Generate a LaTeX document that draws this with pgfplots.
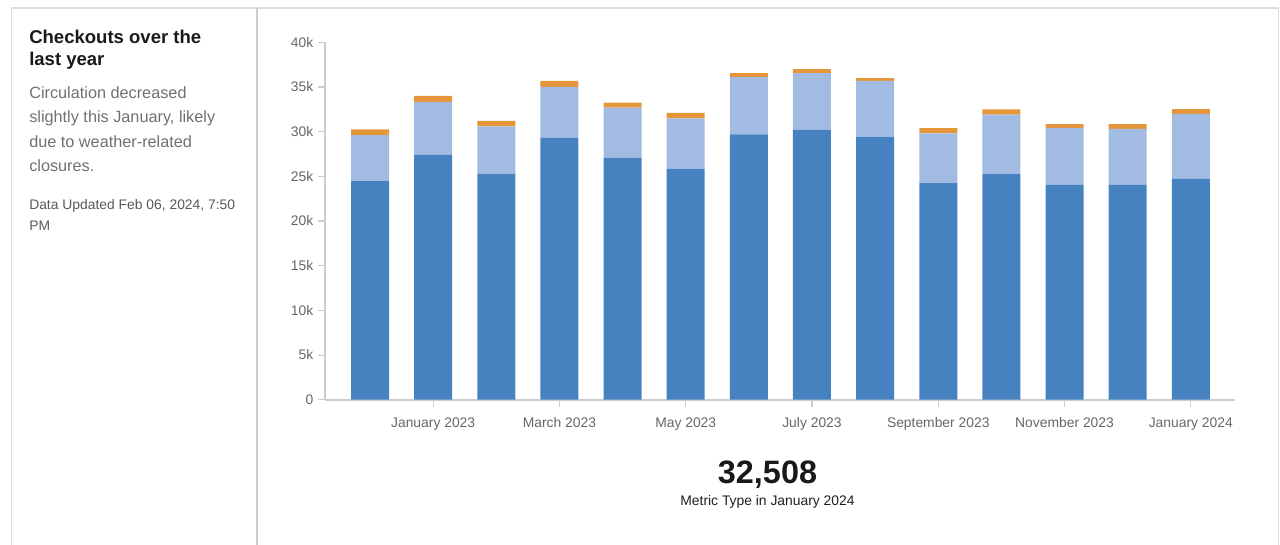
\documentclass[border=0pt]{standalone}
\usepackage{pgfplots}
\usepackage{pgfplotstable}
\pgfplotsset{compat=1.18}
\usepackage{fontspec}
\setmainfont{Liberation Sans}
\definecolor{cblue}{HTML}{4682C0}
\definecolor{clight}{HTML}{A2BBE3}
\definecolor{corange}{HTML}{E5963B}
\definecolor{axgray}{HTML}{C9CDD3}
\definecolor{bordergray}{HTML}{DADDE2}
\definecolor{ticktext}{HTML}{666666}
\definecolor{bodytext}{HTML}{707070}

\pgfplotstableread{
x blue light orange
0 24450 5150 650
1 27400 5900 700
2 25260 5340 600
3 29300 5700 670
4 27100 5600 560
5 25800 5700 600
6 29700 6400 460
7 30200 6360 440
8 29400 6270 330
9 24250 5550 600
10 25260 6640 600
11 24030 6400 420
12 24030 6270 550
13 24750 7250 508
}\data

\begin{document}
\begin{tikzpicture}
\path[use as bounding box] (0pt,0pt) rectangle (960pt,-408.75pt);
\begin{scope}[x=0.75pt,y=-0.75pt]
\draw[bordergray, line width=0.9pt] (11.7,545) -- (11.7,8) -- (1278.8,8) -- (1278.8,545);
\draw[axgray, line width=1.5pt] (257,8) -- (257,545);
\node[anchor=base west, inner sep=0pt, font=\fontsize{13.9}{16}\selectfont\bfseries, text=black!90] at (29,43.3) {Checkouts over the};
\node[anchor=base west, inner sep=0pt, font=\fontsize{13.9}{16}\selectfont\bfseries, text=black!90] at (29,65.3) {last year};
\node[anchor=base west, inner sep=0pt, font=\fontsize{12.2}{14}\selectfont, text=bodytext] at (29,98.5) {Circulation decreased};
\node[anchor=base west, inner sep=0pt, font=\fontsize{12.2}{14}\selectfont, text=bodytext] at (29,123) {slightly this January, likely};
\node[anchor=base west, inner sep=0pt, font=\fontsize{12.2}{14}\selectfont, text=bodytext] at (29,147.5) {due to weather-related};
\node[anchor=base west, inner sep=0pt, font=\fontsize{12.2}{14}\selectfont, text=bodytext] at (29,172) {closures.};
\node[anchor=base west, inner sep=0pt, font=\fontsize{10.4}{12}\selectfont, text=black!65] at (29,210) {Data Updated Feb 06, 2024, 7:50};
\node[anchor=base west, inner sep=0pt, font=\fontsize{10.4}{12}\selectfont, text=black!65] at (29,230) {PM};
\node[anchor=base, inner sep=0pt, font=\fontsize{24.3}{28}\selectfont\bfseries, text=black!90] at (767.5,483) {32,508};
\node[anchor=base, inner sep=0pt, font=\fontsize{10.4}{12}\selectfont, text=black!88] at (767.5,505) {Metric Type in January 2024};
\end{scope}
\begin{axis}[
  at={(243.75pt,-299.78pt)}, anchor=south west,
  scale only axis, width=682.5pt, height=268.05pt,
  xmin=-0.713, xmax=13.70, ymin=0, ymax=40000,
  axis x line=bottom, axis y line=left,
  axis line style={axgray, line width=1.3pt, -},
  xtick={1,3,5,7,9,11,13},
  xticklabels={January 2023, March 2023, May 2023, July 2023, September 2023, November 2023, January 2024},
  ytick={0,5000,10000,15000,20000,25000,30000,35000,40000},
  yticklabels={0,5k,10k,15k,20k,25k,30k,35k,40k},
  scaled y ticks=false,
  tick align=outside, major tick length=5.25pt,
  tick style={axgray, line width=0.8pt},
  ticklabel style={font=\fontsize{10.4}{12}\selectfont, text=ticktext},
  xticklabel style={text height=8pt, text depth=2pt, yshift=-4pt},
  /pgf/number format/assume math mode=true,
  ybar stacked, bar width=28.5pt,
  every axis plot/.append style={draw=none},
]
\addplot[fill=cblue, draw=none] table[x=x, y=blue] {\data};
\addplot[fill=clight, draw=none] table[x=x, y=light] {\data};
\addplot[fill=corange, draw=none] table[x=x, y=orange] {\data};
\end{axis}
\end{tikzpicture}
\end{document}
